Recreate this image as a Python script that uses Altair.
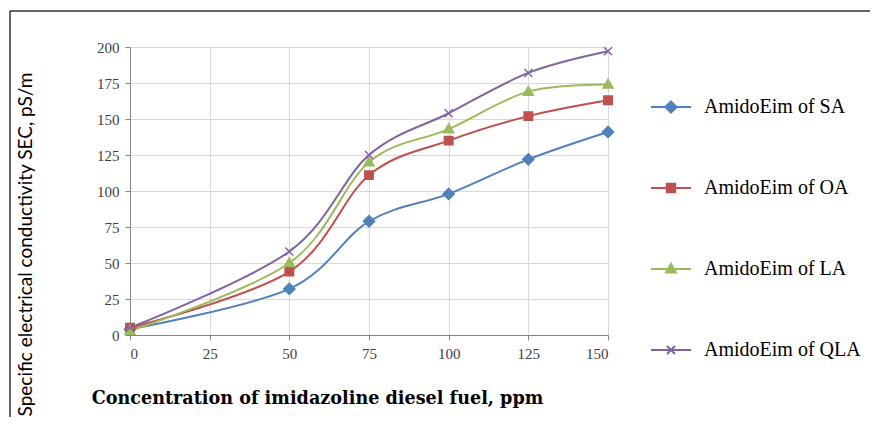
import altair as alt
import pandas as pd

# ---- data ----
conc = [0, 50, 75, 100, 125, 150]
series_names = ["AmidoEim of SA", "AmidoEim of OA", "AmidoEim of LA", "AmidoEim of QLA"]
sa = [4, 32, 79, 98, 122, 141]
oa = [5, 44, 111, 135, 152, 163]
la = [3, 50, 120, 143, 169, 174]
qla = [5, 58, 125, 154, 182, 197]
colors = ["#4F81BD", "#C0504D", "#9BBB59", "#8064A2"]
x_ticks = [0, 25, 50, 75, 100, 125, 150]
y_ticks = [0, 25, 50, 75, 100, 125, 150, 175, 200]

rows = []
for name, vals in zip(series_names, [sa, oa, la, qla]):
    for c, v in zip(conc, vals):
        rows.append({"conc": c, "sec": v, "series": name})
df = pd.DataFrame(rows)

# marker shapes (unit = 20 px at size 1600)
diamond = "M0,-0.28L0.28,0L0,0.28L-0.28,0Z"
square = "M-0.21,-0.21H0.21V0.21H-0.21Z"
triangle = "M0,-0.26L0.25,0.18L-0.25,0.18Z"
xmark = "M-0.2,-0.2L0.2,0.2M-0.2,0.2L0.2,-0.2"
markers = [diamond, square, triangle, xmark]
legend_symbols = ["M-1,0H1" + m for m in markers]

color_scale = alt.Scale(domain=series_names, range=colors)

x_enc = alt.X(
    "conc:Q",
    scale=alt.Scale(domain=[0, 150], nice=False),
    axis=alt.Axis(
        values=x_ticks,
        title="Concentration of imidazoline diesel fuel, ppm",
        titleFont="DejaVu Serif",
        titleFontWeight="bold",
        titleFontSize=17.6,
        titleColor="#000000",
        titleAlign="center",
        titleBaseline="alphabetic",
        titleX=187,
        titleY=68,
        labelPadding=6,
    ),
)
y_enc = alt.Y(
    "sec:Q",
    scale=alt.Scale(domain=[0, 200], nice=False),
    axis=alt.Axis(
        values=y_ticks,
        title="Specific electrical conductivity SEC, pS/m",
        titleFont="Lato",
        titleFontWeight="normal",
        titleFontSize=19,
        titleColor="#000000",
        titleAngle=270,
        titleAlign="center",
        titleBaseline="bottom",
        titleX=-95,
        titleY=197,
        labelPadding=6,
    ),
)

lines = alt.Chart(df).mark_line(interpolate="cardinal", strokeWidth=2).encode(
    x=x_enc,
    y=y_enc,
    color=alt.Color("series:N", scale=color_scale, legend=None),
    detail="series:N",
)

points = alt.Chart(df).mark_point(size=1600, strokeWidth=1.5, opacity=1).encode(
    x=x_enc,
    y=y_enc,
    fill=alt.Fill("series:N", scale=color_scale, legend=None),
    stroke=alt.Stroke("series:N", scale=color_scale, legend=None),
    shape=alt.Shape("series:N", scale=alt.Scale(domain=series_names, range=markers), legend=None),
)

leg = alt.Legend(title=None)
legend_layer = alt.Chart(df).transform_filter("datum.conc < 0").mark_point(
    size=1600, strokeWidth=2, opacity=1
).encode(
    x=x_enc,
    y=y_enc,
    fill=alt.Fill("series:N", scale=color_scale, legend=leg),
    stroke=alt.Stroke("series:N", scale=color_scale, legend=leg),
    shape=alt.Shape("series:N", scale=alt.Scale(domain=series_names, range=legend_symbols), legend=leg),
)

frame_df = pd.DataFrame({"k": [0]})
frame_top = alt.Chart(frame_df).mark_rule(color="#333333", strokeWidth=1.5).encode(
    x=alt.value(-120), x2=alt.value(748), y=alt.value(-36)
)
frame_left = alt.Chart(frame_df).mark_rule(color="#333333", strokeWidth=1.5).encode(
    x=alt.value(-120), y=alt.value(-36), y2=alt.value(380)
)

chart = (
    alt.layer(frame_top, frame_left, lines, points, legend_layer)
    .resolve_scale(shape="independent", fill="independent", stroke="independent")
    .properties(
        width=478,
        height=288,
        autosize=alt.AutoSizeParams(type="none"),
        padding={"left": 122, "top": 39, "right": 262, "bottom": 82},
        background="#ffffff",
    )
    .configure_view(strokeWidth=0)
    .configure_axis(
        grid=True,
        gridColor="#d9d9d9",
        gridWidth=1,
        domainColor="#868686",
        domainWidth=1,
        tickColor="#868686",
        tickSize=5,
        labelFont="Liberation Serif",
        labelFontSize=15,
        labelColor="#404040",
    )
    .configure_legend(
        orient="none",
        legendX=520,
        legendY=39,
        symbolSize=1600,
        symbolStrokeWidth=2,
        labelFont="Liberation Serif",
        labelFontSize=20,
        labelColor="#000000",
        labelOffset=12,
        rowPadding=50,
        labelLimit=300,
    )
)

chart.save("out.html", embed_options={"renderer": "svg", "actions": False})
